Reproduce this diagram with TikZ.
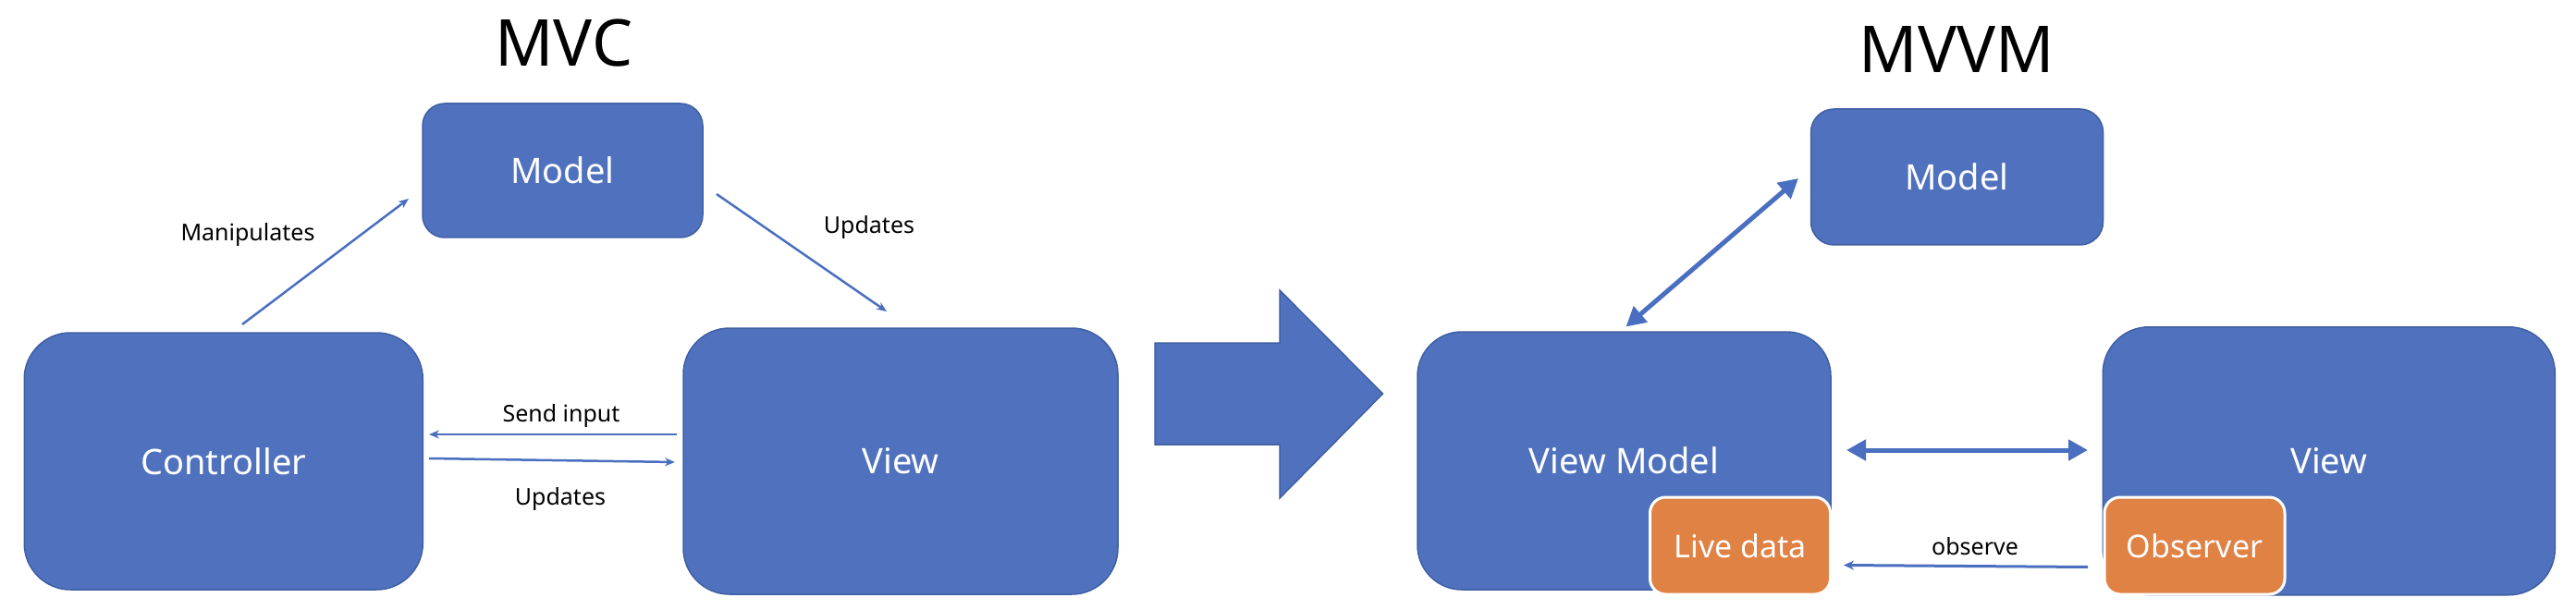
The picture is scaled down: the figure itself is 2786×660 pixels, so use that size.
\documentclass[tikz,border=0pt]{standalone}
\usepackage{fontspec}
\setmainfont{Noto Sans}
\usetikzlibrary{arrows.meta}
\definecolor{boxblue}{HTML}{5072BE}
\definecolor{boxedge}{HTML}{3F5FA3}
\definecolor{boxorange}{HTML}{DF8244}
\definecolor{linkblue}{HTML}{4A6FC0}
\begin{document}
\begin{tikzpicture}[x=1pt,y=-1pt,
  bluebox/.style={draw=boxedge, line width=1.5pt, fill=boxblue, text=white,
    font=\fontsize{38}{44}\selectfont, inner sep=0pt},
  orangebox/.style={draw=white, line width=3pt, fill=boxorange, text=white,
    rounded corners=17pt, font=\fontsize{34}{40}\selectfont, inner sep=0pt,
    minimum width=195pt, minimum height=105pt},
  ttl/.style={font=\fontsize{70}{80}\selectfont, inner sep=0pt},
  lbl/.style={font=\fontsize{25}{30}\selectfont, inner sep=0pt},
  thinlink/.style={draw=linkblue, line width=2.5pt, -{Stealth[length=11pt,width=9pt]}},
  obslink/.style={draw=linkblue, line width=3pt, -{Stealth[length=11pt,width=10pt]}},
  thicklink/.style={draw=linkblue, line width=5pt,
    {Triangle[length=21pt,width=22pt]}-{Triangle[length=21pt,width=22pt]}},
  bigarrow/.style={draw=boxedge, line width=1.5pt, fill=boxblue, line join=miter},
]
\useasboundingbox (0,0) rectangle (2786,660);

% ---------- MVC ----------
\node[ttl, anchor=base] (t1) at (610,72) {MVC};
\node[bluebox, rounded corners=24pt, minimum width=303pt, minimum height=145pt] (model1) at (608.5,184.5) {Model};
\node[bluebox, rounded corners=50pt, minimum width=431pt, minimum height=278pt] (ctrl) at (241.75,499) {Controller};
\node[bluebox, rounded corners=50pt, minimum width=470pt, minimum height=288pt] (view1) at (974,499) {View};

\coordinate (m1) at (262,351);
\coordinate (m2) at (442,215);
\coordinate (u1) at (775,210);
\coordinate (u2) at (959,337);
\coordinate (s1) at (731.5,470);
\coordinate (s2) at (464,470);
\coordinate (d1) at (464,496);
\coordinate (d2) at (730,500);

\draw[thinlink] (m1) -- (m2);
\draw[thinlink] (u1) -- (u2);
\draw[thinlink] (s1) -- (s2);
\draw[thinlink] (d1) -- (d2);

\node[lbl, anchor=base] (lm) at (268,261) {Manipulates};
\node[lbl, anchor=base] (lu) at (940,253) {Updates};
\node[lbl, anchor=base] (ls) at (607,456) {Send input};
\node[lbl, anchor=base] (ld) at (606,546) {Updates};

% ---------- big arrow ----------
\draw[bigarrow] (1249,371) -- (1384,371) -- (1384,314) -- (1495.5,426)
  -- (1384,539) -- (1384,481) -- (1249,481) -- cycle;

% ---------- MVVM ----------
\node[ttl, anchor=base] (t2) at (2116,79) {MVVM};
\node[bluebox, rounded corners=25pt, minimum width=316pt, minimum height=147pt] (model2) at (2116.5,191.5) {Model};
\node[bluebox, rounded corners=48pt, minimum width=447pt, minimum height=279pt] (vm) at (1756.5,498.5) {View Model};
\node[bluebox, rounded corners=50pt, minimum width=489pt, minimum height=290pt] (view2) at (2518.75,498.75) {View};
\node[orangebox] (live) at (1882,590.5) {Live data};
\node[orangebox] (obs) at (2373.5,590.5) {Observer};

\coordinate (v1) at (1758.5,353.5);
\coordinate (v2) at (1945,193);
\coordinate (h1) at (1997,487);
\coordinate (h2) at (2258,487);
\coordinate (o1) at (2258,613.5);
\coordinate (o2) at (1994,611.5);

\draw[thicklink] (v1) -- (v2);
\draw[thicklink] (h1) -- (h2);
\draw[obslink] (o1) -- (o2);

\node[lbl, anchor=base] (lo) at (2136,600) {observe};
\end{tikzpicture}
\end{document}
